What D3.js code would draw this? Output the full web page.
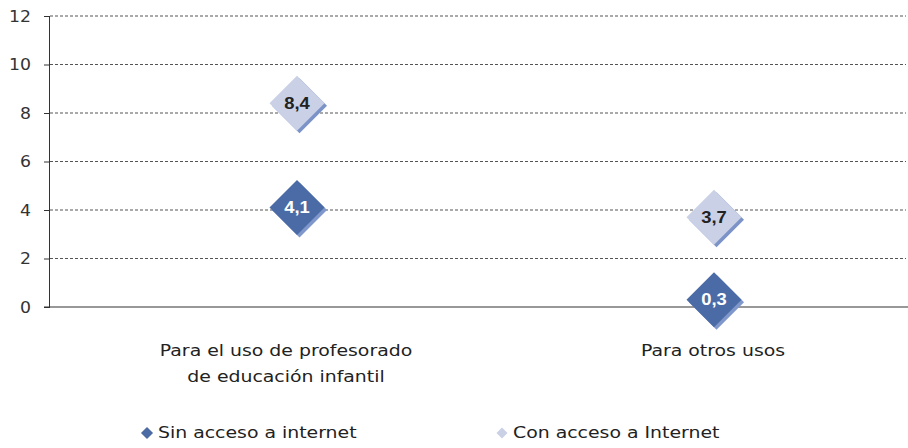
<!DOCTYPE html>
<html><head><meta charset="utf-8">
<script src="https://cdn.jsdelivr.net/npm/d3@7"></script>
<style>body{margin:0;background:#fff}svg{display:block}</style>
</head><body>
<script>
const categories = [["Para el uso de profesorado","de educación infantil"],["Para otros usos"]];
const categoryKeys = ["Para el uso de profesorado de educación infantil","Para otros usos"];
const seriesNames = ["Sin acceso a internet","Con acceso a Internet"];
const sinAcceso = [4.1, 0.3];
const conAcceso = [8.4, 3.7];
const yTicks = [0,2,4,6,8,10,12];

const W=908,H=448;
const svg=d3.select("body").append("svg").attr("width",W).attr("height",H);
const font="'DejaVu Sans', Verdana, sans-serif";
const SX=1.18;

const x=d3.scalePoint().domain(categoryKeys).range([297,714]);
const y=d3.scaleLinear().domain([0,12]).range([307,16]);
const left=50,right=906;

// gridlines
svg.append("g").selectAll("line").data(yTicks.filter(d=>d>0)).join("line")
  .attr("x1",left).attr("x2",right).attr("y1",d=>y(d)).attr("y2",d=>y(d))
  .attr("stroke","#555").attr("stroke-width",1).attr("stroke-dasharray","3,2");

// y axis
const ya=svg.append("g").attr("transform",`translate(${left},0)`)
  .call(d3.axisLeft(y).tickValues(yTicks).tickSize(6).tickPadding(0).tickFormat(d3.format("d")));
ya.select(".domain").attr("stroke","#333").attr("d",`M-0.5,${y(12)}V${y(0)}`);
ya.selectAll(".tick line").attr("stroke","#333");
ya.selectAll(".tick text").attr("x",0).attr("font-family",font).attr("font-size",16).attr("fill","#333")
  .attr("transform","translate(-19,0) scale(1.08,1)");

// x baseline
svg.append("line").attr("x1",left-6).attr("x2",W).attr("y1",y(0)).attr("y2",y(0))
  .attr("stroke","#333").attr("stroke-width",1.2);

// category labels
const labelX=[x(categoryKeys[0])-11, x(categoryKeys[1])-1];
categories.forEach((lines,i)=>{
  const t=svg.append("text").attr("transform",`translate(${labelX[i]},356) scale(${SX},1)`)
    .attr("text-anchor","middle").attr("font-family",font).attr("font-size",16).attr("fill","#222");
  lines.forEach((l,j)=>t.append("tspan").attr("x",0).attr("dy",j?26:0).text(l));
});

const R=27.5;
const diamond=r=>`M0,${-r}L${r},0L0,${r}L${-r},0Z`;
const series=[
  {name:seriesNames[0],values:sinAcceso,fill:"#4a6ba6",shadow:"#7f97cb",text:"#fff"},
  {name:seriesNames[1],values:conAcceso,fill:"#cad1e7",shadow:"#7c93c7",text:"#222"}
];
series.forEach(s=>{
  const g=svg.append("g").selectAll("g").data(s.values).join("g")
    .attr("transform",(d,i)=>`translate(${x(categoryKeys[i])},${y(d)})`);
  g.append("path").attr("d",diamond(R)).attr("fill",s.shadow).attr("transform","translate(2.5,2.5)");
  g.append("path").attr("d",diamond(R)).attr("fill",s.fill);
  g.append("text").attr("text-anchor","middle").attr("dy","0.36em").attr("transform","scale(1.15,1)")
    .attr("font-family","'Liberation Sans', Arial, sans-serif").attr("font-weight","bold")
    .attr("font-size",16).attr("fill",s.text).text(d=>d3.format(".1f")(d).replace(".",","));
});

// legend
const legX=[147,502];
series.forEach((s,i)=>{
  svg.append("path").attr("d",diamond(5.5)).attr("transform",`translate(${legX[i]},433)`)
    .attr("fill",s.fill).attr("stroke",i===0?"#2f4f86":"none").attr("stroke-width",0.8);
  svg.append("text").attr("transform",`translate(${legX[i]+11},438) scale(${SX},1)`).attr("font-family",font)
    .attr("font-size",16).attr("fill","#222").text(s.name);
});
</script>
</body></html>
